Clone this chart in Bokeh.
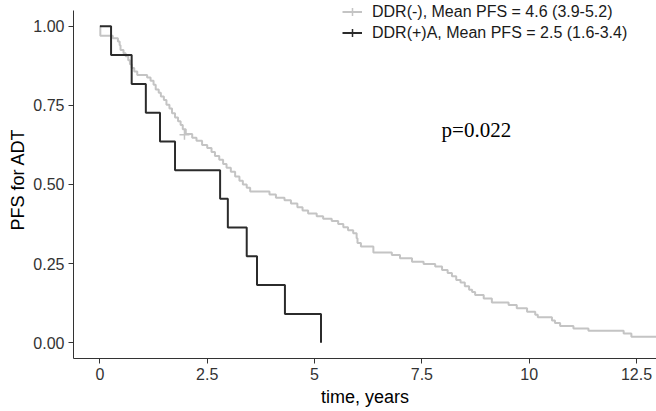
from bokeh.plotting import figure
from bokeh.models import Legend, LegendItem, Label, FixedTicker, Range1d, ColumnDataSource
from bokeh.embed import file_html
from bokeh.resources import INLINE

# --- data ---
neg_label = "DDR(-), Mean PFS = 4.6 (3.9-5.2)"
pos_label = "DDR(+)A, Mean PFS = 2.5 (1.6-3.4)"

neg_times = [0.01, 0.30, 0.42, 0.46, 0.48, 0.55, 0.60, 0.66, 0.70, 0.74, 0.80, 0.87,
             1.10, 1.18, 1.25, 1.30, 1.37, 1.42, 1.49, 1.55, 1.62, 1.68, 1.75, 1.82,
             1.88, 1.93, 2.00, 2.15, 2.25, 2.38, 2.50, 2.60, 2.68, 2.78, 2.87, 2.95,
             3.05, 3.15, 3.25, 3.33, 3.42, 3.50, 3.95, 4.10, 4.30, 4.45, 4.60, 4.72,
             4.85, 5.05, 5.20, 5.40, 5.55, 5.67, 5.78, 5.90, 5.98, 6.00, 6.08, 6.37,
             6.80, 6.99, 7.27, 7.54, 7.81, 7.97, 8.10, 8.20, 8.30, 8.40, 8.50, 8.60,
             8.67, 8.74, 8.94, 9.13, 9.52, 9.71, 9.95, 10.14, 10.20, 10.53, 10.60,
             10.72, 11.03, 11.38, 12.20, 12.38, 13.20]
neg_surv = [0.970, 0.962, 0.952, 0.940, 0.925, 0.915, 0.905, 0.893, 0.880, 0.868, 0.857, 0.846,
            0.838, 0.828, 0.815, 0.800, 0.790, 0.778, 0.767, 0.752, 0.740, 0.725, 0.712, 0.700,
            0.688, 0.675, 0.660, 0.648, 0.638, 0.625, 0.615, 0.603, 0.590, 0.578, 0.565, 0.553,
            0.540, 0.525, 0.512, 0.500, 0.490, 0.478, 0.468, 0.458, 0.450, 0.440, 0.428, 0.418,
            0.408, 0.400, 0.392, 0.385, 0.375, 0.365, 0.355, 0.346, 0.330, 0.315, 0.304, 0.285,
            0.277, 0.267, 0.256, 0.249, 0.241, 0.230, 0.220, 0.210, 0.198, 0.190, 0.178, 0.167,
            0.160, 0.151, 0.140, 0.127, 0.119, 0.109, 0.098, 0.088, 0.080, 0.070, 0.062,
            0.053, 0.045, 0.038, 0.029, 0.019, 0.019]
neg_censor_t = [1.97]
neg_censor_s = [0.657]

pos_times = [0.26, 0.74, 1.07, 1.40, 1.75, 2.80, 2.98, 3.42, 3.66, 4.31, 5.15]
pos_surv = [0.909, 0.818, 0.727, 0.636, 0.545, 0.455, 0.364, 0.273, 0.182, 0.091, 0.0]
pos_censor_t = [float("nan")]   # no censored cases visible; only the legend key shows the mark
pos_censor_s = [float("nan")]

p_text = "p=0.022"
p_pos = (8.77, 0.672)

x_ticks = [0, 2.5, 5, 7.5, 10, 12.5]
x_tick_labels = ["0", "2.5", "5", "7.5", "10", "12.5"]
y_ticks = [0, 0.25, 0.5, 0.75, 1.0]
y_tick_labels = ["0.00", "0.25", "0.50", "0.75", "1.00"]

GREY = "#c4c4c4"
DARK = "#2b2b2b"
FONT = "Liberation Sans"

# frame top at the canvas edge so the legend is not clipped; y axis line limited by bounds
p = figure(width=656, height=411, output_backend="svg", toolbar_location=None,
           x_range=Range1d(-0.615, 12.965), y_range=Range1d(-0.05, 1.0816),
           min_border_left=73, min_border_right=0, min_border_top=0, min_border_bottom=53)
p.grid.visible = False
p.outline_line_color = None
p.background_fill_color = "white"
p.border_fill_color = "white"

neg_src = ColumnDataSource(dict(x=[0.0] + neg_times, y=[1.0] + neg_surv))
pos_src = ColumnDataSource(dict(x=[0.0] + pos_times, y=[1.0] + pos_surv))

r_neg = p.step("x", "y", source=neg_src, mode="after", line_color=GREY, line_width=2)
r_pos = p.step("x", "y", source=pos_src, mode="after", line_color=DARK, line_width=2)
c_neg = p.scatter(neg_censor_t, neg_censor_s, marker="cross", size=10, line_color=GREY, line_width=1.5)
c_pos = p.scatter(pos_censor_t, pos_censor_s, marker="cross", size=10, line_color=DARK, line_width=1.5)

for ax in (p.xaxis[0], p.yaxis[0]):
    ax.axis_line_color = "#333333"
    ax.axis_line_width = 1
    ax.major_tick_line_color = "#333333"
    ax.major_tick_in = 0
    ax.major_tick_out = 5
    ax.minor_tick_line_color = None
    ax.major_label_text_font = FONT
    ax.major_label_text_font_size = "16px"
    ax.major_label_text_color = "#333333"
    ax.axis_label_text_font = FONT
    ax.axis_label_text_font_size = "18px"
    ax.axis_label_text_font_style = "normal"
    ax.axis_label_text_color = "#000000"

p.yaxis.bounds = (-0.05, 1.05)
p.xaxis.ticker = FixedTicker(ticks=x_ticks)
p.xaxis.major_label_overrides = dict(zip(x_ticks, x_tick_labels))
p.yaxis.ticker = FixedTicker(ticks=y_ticks)
p.yaxis.major_label_overrides = dict(zip(y_ticks, y_tick_labels))
p.xaxis.axis_label = "time, years"
p.yaxis.axis_label = "PFS for ADT"
p.xaxis.major_label_standoff = 4
p.xaxis.axis_label_standoff = 4
p.yaxis.major_label_standoff = 4
p.yaxis.axis_label_standoff = 2

legend = Legend(items=[LegendItem(label=neg_label, renderers=[r_neg, c_neg]),
                       LegendItem(label=pos_label, renderers=[r_pos, c_pos])],
                location=(269, 315), padding=0, margin=0, spacing=0,
                glyph_width=20, glyph_height=21, label_height=21, label_standoff=10,
                border_line_color=None, background_fill_alpha=0,
                label_text_font=FONT, label_text_font_size="16px", label_text_color="#1a1a1a")
p.add_layout(legend)

p.add_layout(Label(x=p_pos[0], y=p_pos[1], text=p_text, text_font="Liberation Serif",
                   text_font_size="21px", text_align="center", text_baseline="middle",
                   text_color="#000000"))

open("out.html", "w").write(file_html(p, INLINE))
